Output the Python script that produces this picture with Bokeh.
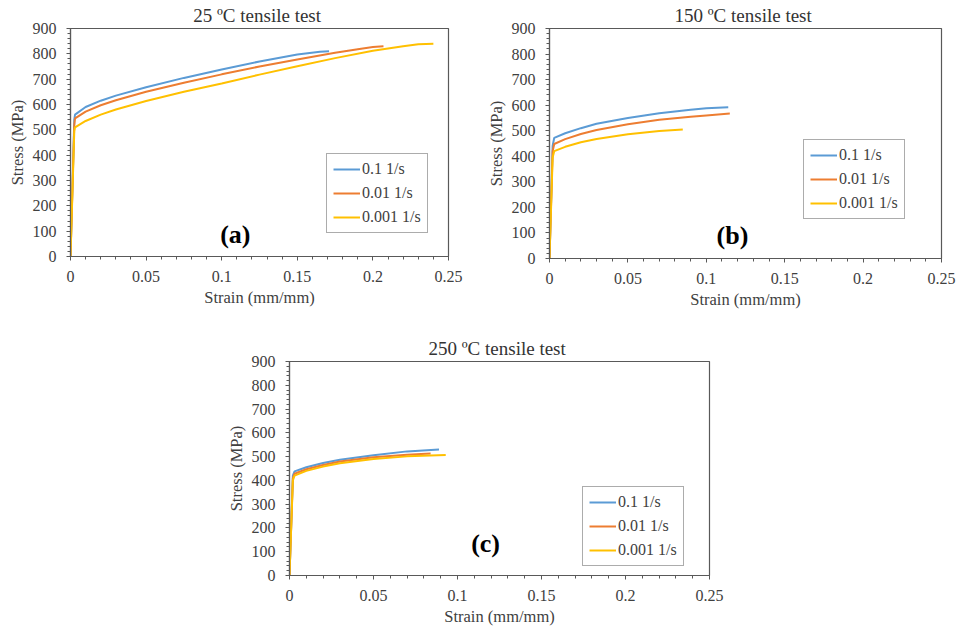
from bokeh.plotting import figure
from bokeh.models import (FixedTicker, Legend, LegendItem, Label, Spacer, Range1d)
from bokeh.layouts import column, row
from bokeh.embed import file_html
from bokeh.resources import INLINE

# ---------------- data ----------------
series_names = ["0.1 1/s", "0.01 1/s", "0.001 1/s"]
colors = ["#5B9BD5", "#ED7D31", "#FFC000"]

# 25 C
a_strain_01 = [0, 0.0025, 0.003, 0.01, 0.02, 0.03, 0.05, 0.075, 0.1, 0.125, 0.15, 0.165, 0.171]
a_stress_01 = [0, 540, 560, 590, 615, 635, 668, 705, 738, 770, 797, 808, 810]
a_strain_001 = [0, 0.0025, 0.003, 0.01, 0.02, 0.03, 0.05, 0.075, 0.1, 0.125, 0.15, 0.175, 0.19, 0.2, 0.207]
a_stress_001 = [0, 520, 545, 572, 597, 617, 650, 686, 719, 750, 778, 804, 818, 827, 830]
a_strain_0001 = [0, 0.0025, 0.003, 0.01, 0.02, 0.03, 0.05, 0.075, 0.1, 0.125, 0.15, 0.175, 0.2, 0.22, 0.23, 0.24]
a_stress_0001 = [0, 495, 510, 535, 560, 580, 614, 650, 683, 718, 751, 783, 812, 830, 838, 840]

# 150 C
b_strain_01 = [0, 0.002, 0.003, 0.01, 0.02, 0.03, 0.05, 0.07, 0.09, 0.1, 0.114]
b_stress_01 = [0, 440, 472, 490, 510, 527, 550, 568, 582, 588, 592]
b_strain_001 = [0, 0.002, 0.003, 0.01, 0.02, 0.03, 0.05, 0.07, 0.09, 0.1, 0.115]
b_stress_001 = [0, 420, 448, 467, 487, 503, 525, 543, 555, 560, 567]
b_strain_0001 = [0, 0.002, 0.003, 0.01, 0.02, 0.03, 0.05, 0.07, 0.085]
b_stress_0001 = [0, 395, 420, 437, 455, 468, 486, 499, 505]

# 250 C
c_strain_01 = [0, 0.002, 0.003, 0.01, 0.02, 0.03, 0.05, 0.07, 0.089]
c_stress_01 = [0, 420, 438, 455, 473, 487, 506, 522, 530]
c_strain_001 = [0, 0.002, 0.003, 0.01, 0.02, 0.03, 0.05, 0.07, 0.084]
c_stress_001 = [0, 410, 428, 447, 465, 479, 497, 508, 513]
c_strain_0001 = [0, 0.002, 0.003, 0.01, 0.02, 0.03, 0.05, 0.07, 0.093]
c_stress_0001 = [0, 400, 420, 440, 458, 472, 490, 501, 507]

x_ticks = [0, 0.05, 0.1, 0.15, 0.2, 0.25]
x_tick_labels = ["0", "0.05", "0.1", "0.15", "0.2", "0.25"]
x_minor = [i / 100 for i in range(0, 26)]
y_ticks = list(range(0, 901, 100))
y_minor = list(range(0, 901, 20))

titles = ["25 ºC tensile  test", "150 ºC tensile  test", "250 ºC tensile  test"]
panel_tags = ["(a)", "(b)", "(c)"]

FONT = "Liberation Serif"
AX = "#595959"


def make_panel(title, xs_list, ys_list, tag, tag_pos, frame_w, frame_h,
               bl, br, bt, bb, leg_loc):
    p = figure(frame_width=frame_w, frame_height=frame_h,
               x_range=Range1d(0, 0.25), y_range=Range1d(0, 900),
               output_backend="svg", toolbar_location=None,
               min_border_left=bl, min_border_right=br,
               min_border_top=bt, min_border_bottom=bb,
               title=title)
    p.title.align = "center"
    p.title.text_font = FONT
    p.title.text_font_size = "19px"
    p.title.text_font_style = "normal"
    p.title.text_color = "#333333"
    p.title.standoff = 5
    p.xgrid.visible = False
    p.ygrid.visible = False
    p.outline_line_color = AX
    p.outline_line_width = 1.2

    p.xaxis.ticker = FixedTicker(ticks=x_ticks, minor_ticks=x_minor)
    p.xaxis.major_label_overrides = {t: l for t, l in zip(x_ticks, x_tick_labels)}
    p.yaxis.ticker = FixedTicker(ticks=y_ticks, minor_ticks=y_minor)
    for ax in (p.xaxis[0], p.yaxis[0]):
        ax.axis_line_color = AX
        ax.axis_line_width = 1.2
        ax.major_tick_line_color = AX
        ax.minor_tick_line_color = AX
        ax.major_tick_in = 0
        ax.major_tick_out = 4
        ax.minor_tick_in = 0
        ax.minor_tick_out = 3
        ax.major_label_text_font = FONT
        ax.major_label_text_font_size = "16px"
        ax.major_label_text_color = "#404040"
        ax.axis_label_text_font = FONT
        ax.axis_label_text_font_size = "16.5px"
        ax.axis_label_text_font_style = "normal"
        ax.axis_label_text_color = "#404040"
    p.xaxis.axis_label = "Strain (mm/mm)"
    p.yaxis.axis_label = "Stress (MPa)"
    p.xaxis.major_label_standoff = 10
    p.xaxis.axis_label_standoff = 3
    p.yaxis.major_label_standoff = 10
    p.yaxis.axis_label_standoff = 3

    items = []
    for xs, ys, c, n in zip(xs_list, ys_list, colors, series_names):
        r = p.line(xs, ys, line_color=c, line_width=2)
        items.append(LegendItem(label=n, renderers=[r]))
    leg = Legend(items=items, location=leg_loc,
                 label_text_font=FONT, label_text_font_size="16px",
                 label_text_color="#404040",
                 glyph_width=27, glyph_height=18, label_standoff=2,
                 label_height=18, padding=6, spacing=6, margin=0,
                 border_line_color=AX, border_line_width=1.5,
                 background_fill_alpha=1)
    p.add_layout(leg, "center")

    p.add_layout(Label(x=tag_pos[0], y=tag_pos[1], text=tag,
                       text_font=FONT, text_font_size="26px",
                       text_font_style="bold", text_align="center",
                       text_baseline="middle", text_color="#000000"))
    return p


pa = make_panel(titles[0],
                [a_strain_01, a_strain_001, a_strain_0001],
                [a_stress_01, a_stress_001, a_stress_0001],
                panel_tags[0], (0.109, 86), 378, 228, 70, 22, 28, 56, (256, 23))
pb = make_panel(titles[1],
                [b_strain_01, b_strain_001, b_strain_0001],
                [b_stress_01, b_stress_001, b_stress_0001],
                panel_tags[1], (0.1167, 90), 392, 230, 79, 16, 27, 55, (254, 39))
pc = make_panel(titles[2],
                [c_strain_01, c_strain_001, c_strain_0001],
                [c_stress_01, c_stress_001, c_stress_0001],
                panel_tags[2], (0.1167, 134), 420, 214, 69, 30, 48, 56, (293, 9))

layout = column(row(pa, pb), row(Spacer(width=220, height=10), pc))

open("out.html", "w").write(file_html(layout, INLINE))
